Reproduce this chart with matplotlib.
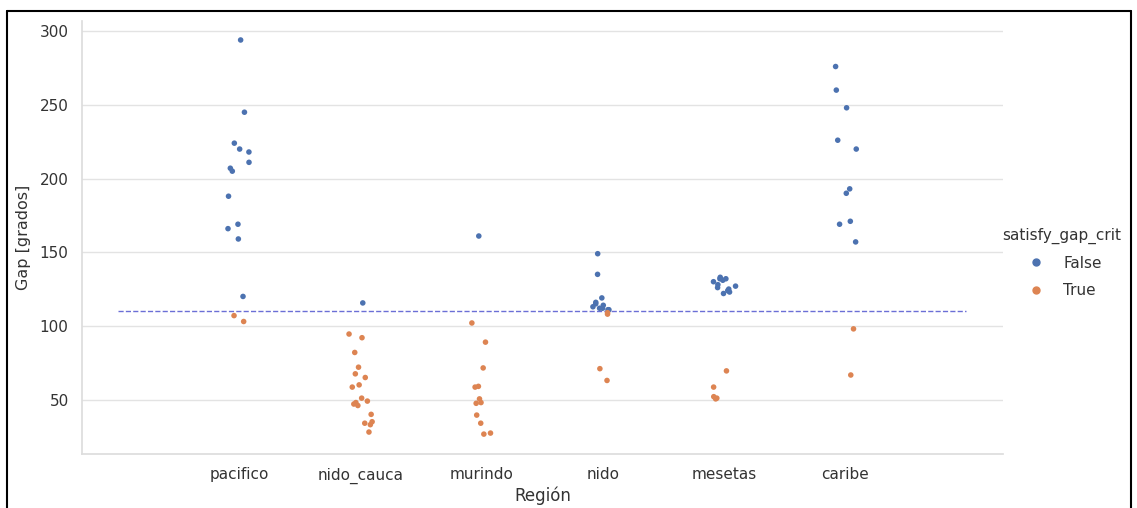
import numpy as np
import pandas as pd
import matplotlib
matplotlib.use("Agg")
import matplotlib.pyplot as plt
from matplotlib.lines import Line2D
import seaborn as sns

regions = ["pacifico", "nido_cauca", "murindo", "nido", "mesetas", "caribe"]

# gap values per region, split by satisfy_gap_crit (gap < 110)
gap_false = {
    "pacifico": [294, 245, 224, 220, 218, 211, 207, 205, 188, 169, 166, 159, 120],
    "nido_cauca": [115.6],
    "murindo": [161],
    "nido": [149, 135, 119, 116, 115, 114, 113, 112, 112, 111, 111],
    "mesetas": [133, 132, 132, 131, 130, 128, 127, 126, 125, 124, 123, 122],
    "caribe": [276, 260, 248, 226, 220, 193, 190, 171, 169, 157],
}
gap_true = {
    "pacifico": [107, 103],
    "nido_cauca": [94.5, 92, 82, 72, 67.5, 65, 60, 58.5, 51, 49, 48, 47, 46,
                   40, 35, 34, 33, 28],
    "murindo": [102, 89, 71.5, 59, 58.5, 50.5, 48, 47.5, 39.5, 34, 27.3, 26.6],
    "nido": [109, 108, 71, 63],
    "mesetas": [69.5, 58.5, 52, 51, 50.5],
    "caribe": [98, 66.7],
}
threshold = 110

rows = []
for r in regions:
    rows += [(r, v, False) for v in gap_false[r]]
    rows += [(r, v, True) for v in gap_true[r]]
df = pd.DataFrame(rows, columns=["region", "gap", "satisfy_gap_crit"])

sns.set_theme(style="whitegrid")
np.random.seed(3)

fig = plt.figure(figsize=(11.37, 5.08), dpi=100)
ax = fig.add_axes([0.072, 0.106, 0.81, 0.853])

sns.stripplot(data=df, x="region", y="gap", hue="satisfy_gap_crit",
              order=regions, hue_order=[False, True], jitter=0.1,
              size=4, palette=["#4c72b0", "#dd8452"], ax=ax, legend=False)

ax.hlines(threshold, -1, 6, colors="#6b6fd6", linestyles="--", linewidth=1)
ax.set_xlim(-1.3, 6.3)
ax.set_ylim(13, 307)
ax.set_yticks([50, 100, 150, 200, 250, 300])
ax.grid(axis="x", visible=False)
ax.grid(axis="y", color="#e3e3e3")
ax.set_xlabel("Región", fontsize=12, color="#333333", labelpad=2)
ax.set_ylabel("Gap [grados]", fontsize=11.5, color="#333333", labelpad=6)
ax.tick_params(labelsize=11, labelcolor="#333333")
sns.despine(ax=ax)
for s in ["left", "bottom"]:
    ax.spines[s].set_color("#dddddd")

handles = [Line2D([], [], marker="o", ls="", color=c, markersize=5)
           for c in ["#4c72b0", "#dd8452"]]
leg = fig.legend(handles, ["False", "True"], title="satisfy_gap_crit",
                 loc="center left", bbox_to_anchor=(0.869, 0.483),
                 frameon=False, fontsize=11, title_fontsize=11,
                 labelspacing=0.8)
for t in leg.get_texts() + [leg.get_title()]:
    t.set_color("#333333")

# screenshot frame
W, H = 1137, 508
for (x0, y0, x1, y1) in [(7, 11, 7, 508), (7, 11, 1131, 11), (1131, 11, 1131, 508)]:
    fig.add_artist(Line2D([x0 / W, x1 / W], [1 - y0 / H, 1 - y1 / H],
                          transform=fig.transFigure, color="black", lw=1.5))

fig.savefig("out.png", dpi=100)
